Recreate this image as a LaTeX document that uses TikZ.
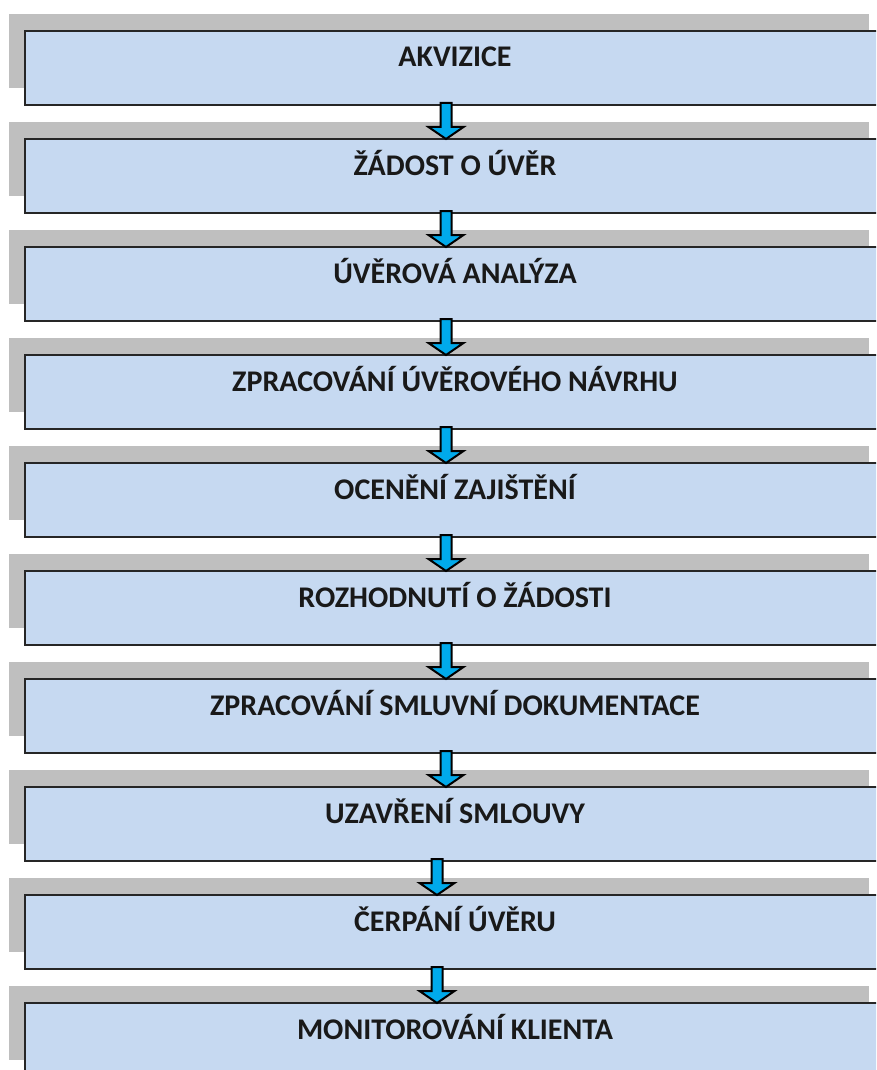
\documentclass[tikz,border=0pt]{standalone}
\usepackage{fontspec}
\setmainfont{Carlito}
\usepackage{tikz}
\usetikzlibrary{positioning, shadows, calc}

\definecolor{stagefill}{RGB}{198,217,241}
\definecolor{stageshade}{RGB}{191,191,191}
\definecolor{stageline}{RGB}{38,38,38}
\definecolor{arrowblue}{RGB}{0,170,235}

\tikzset{
  stage/.style={rectangle, draw=stageline, line width=2pt, fill=stagefill,
    minimum width=860pt, minimum height=74pt, inner ysep=0pt, outer sep=0pt,
    text height=20pt, text depth=22pt,
    font=\fontsize{30}{34}\selectfont\bfseries, text=black!90,
    general shadow={fill=stageshade, shadow xshift=-16pt, shadow yshift=17pt}},
  flowarrow/.style={draw=black, line width=2pt, fill=arrowblue, line join=miter}
}

\begin{document}
\begin{tikzpicture}[x=1pt, y=-1pt, node distance=34pt]
    \useasboundingbox (0,0) rectangle (876,1070);
    \clip (0,0) rectangle (876,1070);
        \node[stage, anchor=north west] (akv) at (25,31) {AKVIZICE};
        \node[stage, below=of akv] (zad) {ŽÁDOST O ÚVĚR};
        \node[stage, below=of zad] (ana) {ÚVĚROVÁ ANALÝZA};
        \node[stage, below=of ana] (nav) {ZPRACOVÁNÍ ÚVĚROVÉHO NÁVRHU};
        \node[stage, below=of nav] (oce) {OCENĚNÍ ZAJIŠTĚNÍ};
        \node[stage, below=of oce] (roz) {ROZHODNUTÍ O ŽÁDOSTI};
        \node[stage, below=of roz] (dok) {ZPRACOVÁNÍ SMLUVNÍ DOKUMENTACE};
        \node[stage, below=of dok] (uza) {UZAVŘENÍ SMLOUVY};
        \node[stage, below=of uza] (cer) {ČERPÁNÍ ÚVĚRU};
        \node[stage, below=of cer] (mon) {MONITOROVÁNÍ KLIENTA};
        % block arrows between the stages
        \foreach \a/\b/\x in {akv/zad/446, zad/ana/446, ana/nav/446, nav/oce/446,
                             oce/roz/446, roz/dok/446, dok/uza/446, uza/cer/437, cer/mon/437} {
          \draw[flowarrow] (\x,0 |- \b.north) -- ++(-17.5,-12) -- ++(12,0)
            -- ($(\x,0 |- \a.south)+(-5.5,-2)$) -- ++(11,0)
            -- ($(\x,0 |- \b.north)+(5.5,-12)$) -- ++(12,0) -- cycle;
        }
    \end{tikzpicture}
\end{document}
